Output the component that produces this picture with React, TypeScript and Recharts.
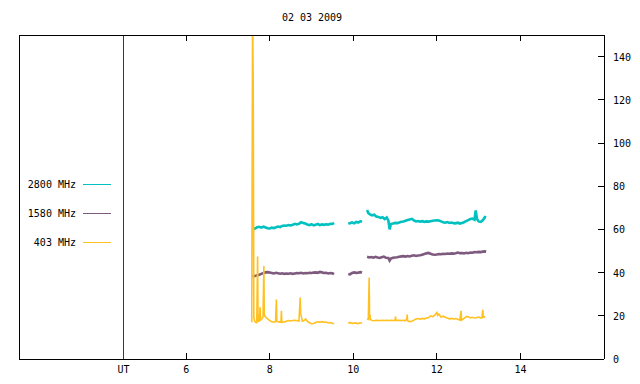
import { Legend, Line, LineChart, ReferenceLine, XAxis, YAxis } from "recharts";

const FONT = "'DejaVu Sans Mono', monospace";

const title = "02 03 2009";
const seriesNames = ["2800 MHz", "1580 MHz", "403 MHz"];
const seriesColors = ["#00c0c0", "#7e5a7e", "#ffc020"];
const utColor = "#c00000";

const bottomTicks = [4.5, 6, 8, 10, 12, 14];
const topTicks = [6, 8, 10, 12, 14];
const yTicks = [0, 20, 40, 60, 80, 100, 120, 140];
const utMark = 4.5;

// hours UT, null = data gap
const t2800 = [
  7.59, 7.62, 7.66, 7.7, 7.75, 7.8, 7.85, 7.9, 7.95, 8.0, 8.05, 8.1, 8.15, 8.2, 8.25, 8.3, 8.35, 8.4,
  8.45, 8.5, 8.55, 8.6, 8.65, 8.7, 8.75, 8.8, 8.85, 8.9, 8.95, 9.0, 9.05, 9.1, 9.15, 9.2, 9.25, 9.3,
  9.35, 9.4, 9.45, 9.5, 9.54, 9.7,
  9.88, 9.92, 9.97, 10.02, 10.07, 10.12, 10.17, 10.21, 10.27,
  10.33, 10.36, 10.4, 10.45, 10.5, 10.55, 10.6, 10.65, 10.7, 10.75, 10.8, 10.84, 10.87, 10.9, 10.95,
  11.0, 11.05, 11.1, 11.15, 11.2, 11.25, 11.3, 11.35, 11.4, 11.45, 11.5, 11.55, 11.6, 11.65, 11.7,
  11.75, 11.8, 11.85, 11.9, 11.95, 12.0, 12.05, 12.1, 12.15, 12.2, 12.25, 12.3, 12.35, 12.4, 12.45,
  12.5, 12.55, 12.6, 12.65, 12.7, 12.75, 12.8, 12.85, 12.9, 12.93, 12.96, 13.0, 13.05, 13.1, 13.15, 13.18,
];
const v2800 = [
  59.6, 60.2, 60.5, 61.0, 61.2, 60.8, 61.3, 60.9, 60.5, 60.4, 60.8, 60.6, 61.0, 61.3, 61.1, 61.6, 61.8, 61.7,
  62.0, 61.8, 62.1, 62.6, 62.3, 62.6, 63.3, 63.0, 62.7, 62.3, 62.0, 62.4, 61.9, 62.2, 62.5, 62.0, 62.3, 62.1,
  62.4, 62.2, 62.6, 62.5, 63.0, null,
  62.6, 62.9, 63.2, 62.8, 63.5, 63.2, 63.8, 63.5, null,
  69.0, 67.5, 67.0, 66.5, 66.8, 66.0, 65.8, 65.3, 65.6, 64.8, 65.5, 64.0, 60.0, 62.5, 62.7,
  63.0, 62.9, 63.2, 63.5, 63.7, 64.0, 64.3, 64.6, 64.9, 64.2, 63.7, 63.9, 63.6, 63.8, 63.5,
  63.7, 63.6, 63.8, 64.0, 64.1, 64.2, 64.1, 63.7, 63.3, 63.1, 63.4, 63.0, 63.2, 62.9, 62.8,
  63.1, 62.7, 63.0, 63.3, 63.8, 64.3, 64.8, 65.0, 64.5, 68.8, 64.8, 63.7, 63.5, 64.2, 65.7, 65.5,
];

const t1580 = [
  7.59, 7.62, 7.66, 7.7, 7.75, 7.8, 7.85, 7.9, 7.95, 8.0, 8.05, 8.1, 8.15, 8.2, 8.25, 8.3, 8.35, 8.4,
  8.45, 8.5, 8.55, 8.6, 8.65, 8.7, 8.75, 8.8, 8.85, 8.9, 8.95, 9.0, 9.05, 9.1, 9.15, 9.2, 9.25, 9.3,
  9.35, 9.4, 9.45, 9.5, 9.54, 9.7,
  9.88, 9.92, 9.97, 10.02, 10.07, 10.12, 10.17, 10.21, 10.27,
  10.33, 10.38, 10.43, 10.48, 10.53, 10.58, 10.63, 10.68, 10.73, 10.78, 10.84, 10.87, 10.9, 10.95,
  11.0, 11.05, 11.1, 11.15, 11.2, 11.25, 11.3, 11.35, 11.4, 11.45, 11.5, 11.55, 11.6, 11.65, 11.7,
  11.75, 11.8, 11.85, 11.9, 11.95, 12.0, 12.05, 12.1, 12.15, 12.2, 12.25, 12.3, 12.35, 12.4, 12.45,
  12.5, 12.55, 12.6, 12.65, 12.7, 12.75, 12.8, 12.85, 12.9, 12.95, 13.0, 13.05, 13.1, 13.15, 13.18,
];
const v1580 = [
  38.0, 38.3, 38.5, 38.8, 39.0, 39.4, 39.8, 40.1, 40.2, 40.0, 39.8, 39.6, 39.9, 39.7, 39.5, 39.7, 39.4, 39.6,
  39.5, 39.7, 39.4, 39.6, 39.8, 39.7, 39.9, 39.6, 39.8, 39.7, 39.9, 39.8, 40.0, 40.1, 39.9, 40.3, 40.1, 39.8,
  39.9, 39.6, 39.8, 39.7, 39.3, null,
  39.4, 39.2, 39.8, 40.1, 39.9, 40.0, 40.2, 40.0, null,
  47.3, 47.0, 47.2, 46.9, 47.3, 47.0, 46.8, 47.1, 47.4, 46.9, 46.8, 45.6, 46.5, 46.9,
  47.0, 47.1, 47.3, 47.5, 47.6, 47.4, 47.7, 47.5, 47.8, 48.0, 47.7, 47.9, 48.0, 48.3, 48.6,
  48.9, 49.1, 48.7, 48.4, 48.3, 48.4, 48.6, 48.5, 48.7, 48.6, 48.8, 48.7, 48.9, 48.8, 49.0,
  49.3, 49.0, 49.1, 48.9, 49.2, 49.0, 49.3, 49.2, 49.5, 49.4, 49.6, 49.5, 49.7, 49.8, 49.7,
];

const t403 = [
  7.57, 7.59, 7.605, 7.62, 7.64, 7.66, 7.69, 7.71, 7.72, 7.75, 7.77, 7.78, 7.81, 7.84, 7.86, 7.87, 7.89,
  7.92, 7.96, 8.0, 8.05, 8.1, 8.14, 8.16, 8.17, 8.22, 8.27, 8.28, 8.29, 8.35, 8.4, 8.45, 8.5, 8.55,
  8.6, 8.65, 8.7, 8.73, 8.74, 8.76, 8.78, 8.82, 8.86, 8.9, 8.95, 9.0, 9.05, 9.1, 9.15, 9.2, 9.25,
  9.3, 9.35, 9.4, 9.45, 9.5, 9.54, 9.7,
  9.88, 9.92, 9.95, 10.0, 10.05, 10.1, 10.15, 10.21, 10.27,
  10.33, 10.36, 10.38, 10.39, 10.4, 10.41, 10.45, 10.5, 10.55, 10.6, 10.65, 10.7, 10.75, 10.8, 10.85,
  10.9, 10.95, 11.0, 11.01, 11.02, 11.1, 11.15, 11.2, 11.25, 11.28, 11.29, 11.3, 11.35, 11.4, 11.45,
  11.5, 11.55, 11.6, 11.65, 11.7, 11.75, 11.8, 11.85, 11.9, 11.95, 12.0, 12.02, 12.05, 12.1, 12.15,
  12.2, 12.25, 12.3, 12.35, 12.4, 12.45, 12.5, 12.55, 12.58, 12.59, 12.63, 12.68, 12.72, 12.76, 12.8,
  12.84, 12.88, 12.92, 12.96, 13.0, 13.04, 13.08, 13.1, 13.11, 13.14, 13.16,
];
const v403 = [
  17.0, 160, 128, 19.0, 17.5, 17.0, 16.8, 47.5, 17.5, 17.6, 24.0, 18.0, 18.5, 19.5, 43.0, 20.0, 19.8,
  19.0, 18.5, 17.8, 17.2, 17.0, 17.3, 27.5, 17.4, 17.2, 17.0, 22.3, 17.0, 17.2, 17.5, 17.8, 17.6, 17.8,
  17.9, 17.8, 17.5, 28.5, 21.0, 19.5, 17.5, 17.8, 18.5, 17.5, 16.8, 16.3, 16.4, 16.9, 17.2, 17.0, 17.3,
  17.0, 17.1, 16.7, 16.9, 16.5, 16.4, null,
  16.6, 16.9, 16.6, 16.5, 16.7, 16.4, 16.6, 16.8, null,
  18.5, 18.3, 37.7, 18.4, 20.5, 18.3, 17.8, 17.7, 17.9, 17.8, 17.8, 17.9, 17.8, 17.9, 17.8,
  17.9, 17.8, 17.9, 19.6, 17.9, 17.9, 17.8, 17.9, 17.8, 18.5, 20.6, 17.6, 17.3, 17.5, 18.0,
  18.5, 18.7, 18.4, 18.8, 18.6, 19.0, 19.2, 20.0, 19.6, 20.3, 21.5, 20.2, 20.8, 19.4, 19.8,
  19.3, 19.0, 18.6, 18.8, 18.5, 18.7, 18.4, 18.0, 22.3, 18.0, 18.5, 19.3, 19.7, 19.5, 19.0,
  19.3, 19.1, 19.0, 19.2, 19.4, 19.0, 19.2, 22.8, 19.3, 19.5, 19.4,
];

const rows = (t: number[], v: (number | null)[]) => t.map((x, i) => ({ t: x, v: v[i] }));
const series = [rows(t2800, v2800), rows(t1580, v1580), rows(t403, v403)];

const frame = { stroke: "#000", shapeRendering: "crispEdges" };

function BottomTick({ x, y, payload }: any) {
  const isUT = payload.value === utMark;
  return (
    <g>
      {!isUT && <line x1={x} y1={y} x2={x} y2={y - 6} stroke="#000" shapeRendering="crispEdges" />}
      <text x={x} y={y + 14} textAnchor="middle" fontFamily={FONT} fontSize={10} fill="#000">
        {isUT ? "UT" : payload.value}
      </text>
    </g>
  );
}

function TopTick({ x, y }: any) {
  return <line x1={x} y1={y} x2={x} y2={y + 6} stroke="#000" shapeRendering="crispEdges" />;
}

function RightTick({ x, y, payload }: any) {
  return (
    <g>
      <line x1={x - 6} y1={y} x2={x} y2={y} stroke="#000" shapeRendering="crispEdges" />
      <text x={x + 9} y={y + 4} textAnchor="start" fontFamily={FONT} fontSize={10} fill="#000">
        {payload.value}
      </text>
    </g>
  );
}

function UtLine(props: any) {
  return (
    <line
      x1={props.x1}
      y1={props.y1}
      x2={props.x2}
      y2={props.y2}
      stroke={utColor}
      strokeWidth={1}
      shapeRendering="crispEdges"
    />
  );
}

function KeyBox() {
  return (
    <svg width={120} height={90} style={{ display: "block" }}>
      {seriesNames.map((name, i) => (
        <g key={name}>
          <text x={76} y={18 + i * 29} textAnchor="end" fontFamily={FONT} fontSize={10} fill="#000">
            {name}
          </text>
          <line
            x1={83}
            x2={111}
            y1={14.5 + i * 29}
            y2={14.5 + i * 29}
            stroke={seriesColors[i]}
            shapeRendering="crispEdges"
          />
        </g>
      ))}
    </svg>
  );
}

export default function App() {
  return (
    <div style={{ position: "absolute", left: 0, top: 0, width: 640, height: 384, background: "#fff" }}>
      <div
        style={{
          position: "absolute",
          left: 0,
          width: 624,
          top: 11,
          textAlign: "center",
          fontFamily: FONT,
          fontSize: 10,
          lineHeight: "14px",
        }}
      >
        {title}
      </div>
      <LineChart width={640} height={384} margin={{ top: 34, right: 0, bottom: 0, left: 18 }}>
        <XAxis
          xAxisId="b"
          type="number"
          dataKey="t"
          domain={[2, 16]}
          allowDataOverflow
          ticks={bottomTicks}
          interval={0}
          height={25}
          tickSize={0}
          tickMargin={0}
          tickLine={false}
          axisLine={frame}
          tick={<BottomTick />}
        />
        <XAxis
          xAxisId="t"
          orientation="top"
          type="number"
          dataKey="t"
          domain={[2, 16]}
          allowDataOverflow
          ticks={topTicks}
          interval={0}
          height={1}
          tickSize={0}
          tickMargin={0}
          tickLine={false}
          axisLine={frame}
          tick={<TopTick />}
        />
        <YAxis
          yAxisId="l"
          orientation="left"
          width={1}
          domain={[0, 150]}
          tick={false}
          tickLine={false}
          axisLine={frame}
        />
        <YAxis
          yAxisId="r"
          orientation="right"
          type="number"
          domain={[0, 150]}
          allowDataOverflow
          ticks={yTicks}
          interval={0}
          width={36}
          tickSize={0}
          tickMargin={0}
          tickLine={false}
          axisLine={frame}
          tick={<RightTick />}
        />
        <ReferenceLine xAxisId="b" yAxisId="r" x={utMark} stroke={utColor} shape={UtLine} />
        {series.map((data, i) => (
          <Line
            key={seriesNames[i]}
            xAxisId="b"
            yAxisId="r"
            data={data}
            dataKey="v"
            name={seriesNames[i]}
            type="linear"
            stroke={seriesColors[i]}
            strokeWidth={i === 2 ? 1.6 : 2.6}
            dot={false}
            connectNulls={false}
            isAnimationActive={false}
          />
        ))}
        <Legend
          layout="horizontal"
          verticalAlign="middle"
          align="center"
          wrapperStyle={{ left: 0, top: 170, width: 120, height: 90 }}
          content={() => <KeyBox />}
        />
      </LineChart>
    </div>
  );
}
